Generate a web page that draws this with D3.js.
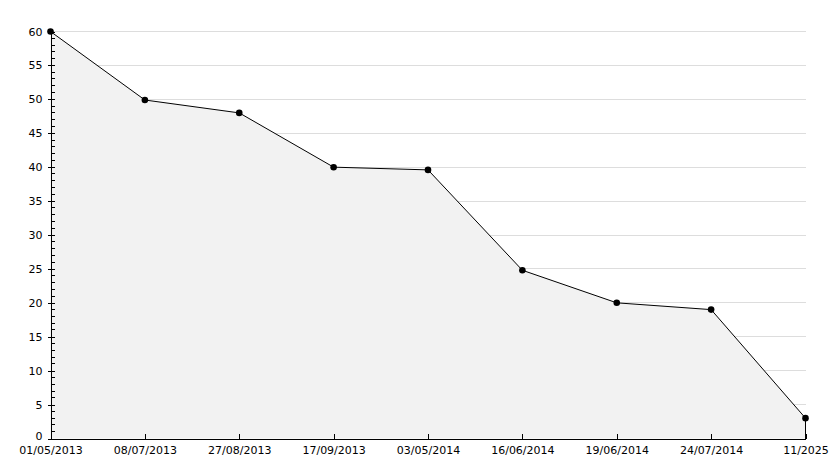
<!DOCTYPE html>
<html><head><meta charset="utf-8">
<script src="https://cdn.jsdelivr.net/npm/d3@7"></script>
<style>body{margin:0;background:#fff}svg{display:block}text{font-family:"DejaVu Sans",sans-serif;font-size:11px;fill:#000}</style>
</head><body><svg id="c" width="834" height="468"></svg>
<script>
const categories = ["01/05/2013","08/07/2013","27/08/2013","17/09/2013","03/05/2014","16/06/2014","19/06/2014","24/07/2014","11/2025"];
const values = [60, 49.9, 48, 40, 39.6, 24.8, 20, 19, 3];
const yTicks = [0,5,10,15,20,25,30,35,40,45,50,55,60];

const svg = d3.select("#c");
const L = 50.5, R = 805.5, T = 31.5, B = 438.5;
const x = d3.scalePoint().domain(categories).range([L, R]);
const y = d3.scaleLinear().domain([0, 60]).range([B, T]);

// grid
svg.append("g").selectAll("line").data(yTicks.filter(d=>d>0)).join("line")
  .attr("x1", L).attr("x2", R).attr("y1", d=>y(d)).attr("y2", d=>y(d))
  .attr("stroke", "#dddddd").attr("shape-rendering","crispEdges");

// area
const area = d3.area().x((d,i)=>x(categories[i])).y0(B).y1(d=>y(d));
svg.append("path").datum(values).attr("d", area).attr("fill", "#f2f2f2").attr("stroke","none");
// right edge of area
svg.append("line").attr("x1", x(categories[categories.length-1])).attr("x2", x(categories[categories.length-1]))
  .attr("y1", y(values[values.length-1])).attr("y2", B).attr("stroke","#000").attr("shape-rendering","crispEdges");

// line
const line = d3.line().x((d,i)=>x(categories[i])).y(d=>y(d));
svg.append("path").datum(values).attr("d", line).attr("fill","none").attr("stroke","#000").attr("stroke-width",1);

// markers
svg.append("g").selectAll("path").data(values).join("path")
  .attr("transform",(d,i)=>`translate(${x(categories[i])},${y(d)})`)
  .attr("d", d3.symbol().type(d3.symbolCircle).size(34)).attr("fill","#000");

// y axis
const minor = d3.range(0, 61, 1).filter(d=>d%5!==0);
svg.append("g").selectAll("line").data(minor).join("line")
  .attr("x1", L).attr("x2", L+4).attr("y1", d=>y(d)).attr("y2", d=>y(d))
  .attr("stroke","#000").attr("shape-rendering","crispEdges");
const yAxis = d3.axisLeft(y).tickValues(yTicks).tickSize(3).tickPadding(5);
const yg = svg.append("g").attr("transform",`translate(${L},0)`).call(yAxis);
yg.select(".domain").attr("stroke","#000").attr("shape-rendering","crispEdges");
yg.selectAll(".tick line").attr("x2",-3).attr("x1",4).attr("stroke","#000").attr("shape-rendering","crispEdges");
yg.selectAll(".tick text").attr("font-family",'"DejaVu Sans",sans-serif').attr("font-size",11).attr("fill","#000");
yg.selectAll(".tick text").filter(d=>d===0).attr("dy","0.12em");
yg.attr("font-family",null).attr("font-size",null);

// x axis
const xAxis = d3.axisBottom(x).tickSize(0).tickPadding(8);
const xg = svg.append("g").attr("transform",`translate(0,${B})`).call(xAxis);
xg.select(".domain").attr("stroke","#000").attr("shape-rendering","crispEdges");
xg.selectAll(".tick line").attr("y2",-5).attr("stroke","#000").attr("shape-rendering","crispEdges");
xg.selectAll(".tick text").attr("font-family",'"DejaVu Sans",sans-serif').attr("font-size",11).attr("fill","#000");
xg.attr("font-family",null).attr("font-size",null);
</script></body></html>
